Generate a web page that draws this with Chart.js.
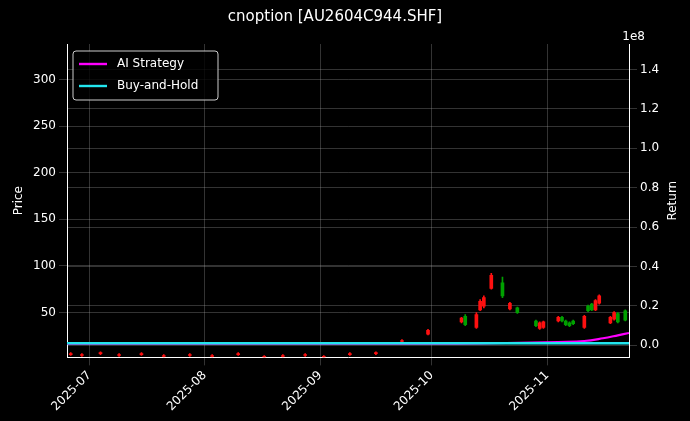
<!DOCTYPE html>
<html><head><meta charset="utf-8">
<script src="https://cdn.jsdelivr.net/npm/chart.js@4"></script>
<style>body{margin:0;background:#000}#wrap{width:690px;height:421px}</style>
</head><body><div id="wrap"><canvas id="c"></canvas></div>
<script>
// días desde 2025-07-01
const monthTicks = [0, 31, 62, 92, 123];
const monthLabels = ['2025-07', '2025-08', '2025-09', '2025-10', '2025-11'];
const candleDay = [-5, -2, 3, 8, 14, 20, 27, 33, 40, 47, 52, 58, 63, 70, 77, 84, 91, 100, 101, 104, 105, 106, 108, 111, 113, 115, 120, 121, 122, 126, 127, 128, 129, 130, 133, 134, 135, 136, 137, 140, 141, 142, 144];
const candleOpen = [6, 5, 7, 5, 6, 4, 5, 4, 6, 3, 4, 5, 3, 6, 7, 20, 31, 44, 37, 48, 62, 66, 90, 68, 60, 50, 36, 39, 40, 45, 41, 37, 36, 38, 46, 52, 53, 63, 68, 45, 50, 40, 42];
const candleClose = [5, 4, 6, 4, 5, 3, 4, 3, 5, 2, 3, 4, 2, 5, 6, 19, 27, 40, 46, 34, 53, 57, 76, 82, 54, 55, 41, 33, 34, 41, 45, 41, 39, 41, 34, 57, 59, 53, 60, 39, 43, 49, 52];
const candleHigh = [7, 6, 8, 6, 7, 5, 6, 5, 7, 4, 5, 6, 4, 7, 8, 21, 32, 45, 48, 50, 64, 68, 92, 88, 61, 56, 42, 40, 41, 46, 46, 42, 40, 42, 47, 58, 60, 64, 69, 46, 51, 50, 53];
const candleLow = [4, 3, 5, 3, 4, 2, 3, 2, 4, 1, 2, 3, 1, 4, 5, 18, 26, 39, 36, 33, 52, 55, 75, 66, 53, 49, 35, 32, 33, 40, 40, 36, 35, 37, 33, 51, 52, 52, 59, 38, 42, 39, 41];
const retDay = [-6, 0, 31, 62, 92, 105, 112, 119, 126, 133, 138, 142, 145];
const aiReturn = [0.008, 0.008, 0.008, 0.008, 0.008, 0.009, 0.011, 0.013, 0.016, 0.021, 0.035, 0.050, 0.062];
const bhReturn = [0.01, 0.01, 0.01, 0.01, 0.01, 0.01, 0.01, 0.01, 0.01, 0.01, 0.01, 0.01, 0.01];

const up = '#00a000', down = '#ff1010';
const cols = candleOpen.map((o, i) => candleClose[i] >= o ? up : down);
const grid = { color: 'rgba(170,170,170,0.5)', borderDash: [3, 3], lineWidth: 0.6, offset: false };

new Chart(document.getElementById('c'), {
    type: 'bar',
    data: {
        datasets: [{
            label: 'wick', order: 4,
            data: candleDay.map((d, i) => ({ x: d, y: [candleLow[i], candleHigh[i]] })),
            backgroundColor: cols, barThickness: 1, grouped: false, yAxisID: 'y'
        }, {
            label: 'body', order: 3,
            data: candleDay.map((d, i) => ({ x: d, y: [candleOpen[i], candleClose[i]] })),
            backgroundColor: cols, barThickness: 3, grouped: false, yAxisID: 'y'
        }, {
            type: 'line', label: 'AI Strategy', order: 2,
            data: retDay.map((d, i) => ({ x: d, y: aiReturn[i] })),
            borderColor: '#ff00ff', borderWidth: 2.2, pointRadius: 0, tension: 0.4, yAxisID: 'y1'
        }, {
            type: 'line', label: 'Buy-and-Hold', order: 1,
            data: retDay.map((d, i) => ({ x: d, y: bhReturn[i] })),
            borderColor: '#22e5ee', borderWidth: 2.4, pointRadius: 0, yAxisID: 'y1'
        }]
    },
    options: {
        responsive: true,
        maintainAspectRatio: false,
        animation: false,
        layout: { padding: { top: 8, right: 28, left: 8, bottom: 4 } },
        plugins: {
            legend: { display: false },
            tooltip: { enabled: false },
            title: { display: true, text: 'cnoption [AU2604C944.SHF]', color: '#fff', font: { size: 15, family: 'DejaVu Sans', weight: 'normal' }, padding: { bottom: 18 } }
        },
        scales: {
            x: {
                type: 'linear', min: -6, max: 145, offset: false,
                afterBuildTicks: s => { s.ticks = monthTicks.map(v => ({ value: v })); },
                ticks: { color: '#fff', font: { size: 12, family: 'DejaVu Sans' }, maxRotation: 45, minRotation: 45, callback: v => monthLabels[monthTicks.indexOf(v)] },
                grid: grid, border: { color: '#fff' }
            },
            y: {
                min: 2, max: 338,
                afterBuildTicks: s => { s.ticks = [50, 100, 150, 200, 250, 300].map(v => ({ value: v })); },
                ticks: { color: '#fff', font: { size: 12, family: 'DejaVu Sans' } },
                title: { display: true, text: 'Price', color: '#fff', font: { size: 12, family: 'DejaVu Sans' } },
                grid: grid, border: { color: '#fff' },
                afterFit: s => { s.width = 59; }
            },
            y1: {
                position: 'right', min: -0.062, max: 1.53,
                afterBuildTicks: s => { s.ticks = [0, 0.2, 0.4, 0.6, 0.8, 1.0, 1.2, 1.4].map(v => ({ value: v })); },
                ticks: { color: '#fff', font: { size: 12, family: 'DejaVu Sans' }, callback: v => v.toFixed(1) },
                grid: grid, border: { color: '#fff' },
                afterFit: s => { s.width = 33; }
            }
        }
    },
    plugins: [{
        id: 'extras',
        afterDraw(chart) {
            const ctx = chart.ctx, a = chart.chartArea;
            ctx.save();
            ctx.fillStyle = '#fff';
            ctx.font = '12px DejaVu Sans';
            ctx.textAlign = 'right';
            ctx.fillText('1e8', a.right + 16, a.top - 4);
            // título del eje derecho
            ctx.save();
            ctx.translate(a.right + 44, (a.top + a.bottom) / 2);
            ctx.rotate(-Math.PI / 2);
            ctx.textAlign = 'center';
            ctx.textBaseline = 'middle';
            ctx.fillText('Return', 0, 0);
            ctx.restore();
            // leyenda
            const x = a.left + 6, y = a.top + 7;
            ctx.fillStyle = 'rgba(0,0,0,0.8)';
            ctx.strokeStyle = '#ccc';
            ctx.lineWidth = 1;
            ctx.beginPath();
            ctx.roundRect(x, y, 145, 49, 3);
            ctx.fill(); ctx.stroke();
            ctx.textAlign = 'left';
            ctx.textBaseline = 'middle';
            [['AI Strategy', '#ff00ff'], ['Buy-and-Hold', '#22e5ee']].forEach((it, i) => {
                const ly = y + 13 + i * 22;
                ctx.strokeStyle = it[1]; ctx.lineWidth = 2.4;
                ctx.beginPath(); ctx.moveTo(x + 6, ly); ctx.lineTo(x + 34, ly); ctx.stroke();
                ctx.fillStyle = '#fff';
                ctx.fillText(it[0], x + 44, ly);
            });
            ctx.restore();
        }
    }, {
        id: 'bg',
        beforeDraw(chart) {
            const ctx = chart.ctx;
            ctx.save(); ctx.fillStyle = '#000'; ctx.fillRect(0, 0, chart.width, chart.height); ctx.restore();
        }
    }]
});
</script>
</body></html>
